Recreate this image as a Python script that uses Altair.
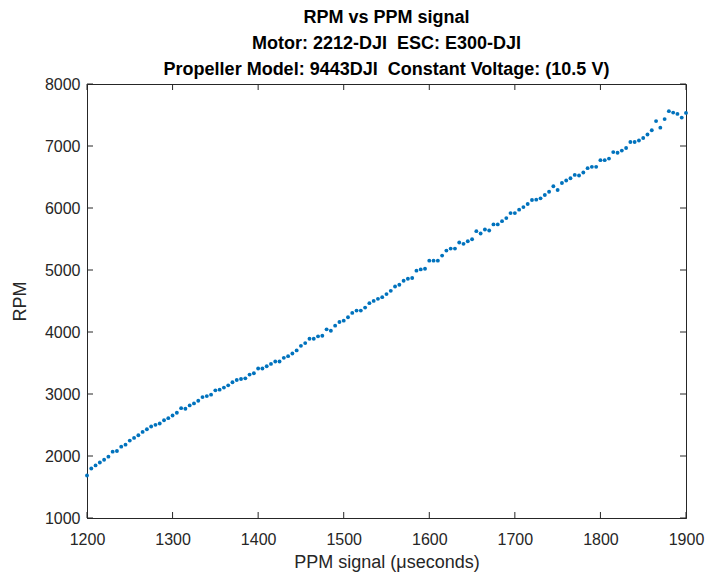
import altair as alt
import pandas as pd

# PPM command sweep (microseconds) and measured rotor speed (RPM)
ppm = list(range(1200, 1905, 5))
rpm = [
    1685, 1799, 1848, 1896, 1940, 1989, 2070, 2081, 2151, 2183,
    2248, 2292, 2334, 2389, 2431, 2475, 2503, 2524, 2577, 2610,
    2654, 2697, 2772, 2762, 2816, 2848, 2892, 2950, 2966, 2989,
    3059, 3070, 3103, 3140, 3189, 3226, 3242, 3253, 3313, 3335,
    3411, 3411, 3448, 3485, 3524, 3524, 3583, 3610, 3654, 3703,
    3777, 3821, 3891, 3891, 3930, 3939, 4043, 4021, 4102, 4162,
    4183, 4238, 4308, 4345, 4345, 4394, 4465, 4502, 4535, 4562,
    4611, 4664, 4734, 4762, 4826, 4859, 4870, 4989, 5010, 5021,
    5151, 5151, 5151, 5232, 5313, 5345, 5345, 5443, 5422, 5464,
    5496, 5626, 5589, 5653, 5637, 5735, 5735, 5788, 5837, 5918,
    5918, 5973, 6015, 6064, 6129, 6135, 6156, 6210, 6262, 6351,
    6291, 6404, 6443, 6480, 6534, 6524, 6573, 6643, 6664, 6664,
    6772, 6772, 6797, 6902, 6891, 6926, 6967, 7064, 7064, 7089,
    7129, 7186, 7254, 7402, 7296, 7434, 7562, 7539, 7518, 7458,
    7534,
]
x_ticks = [1200, 1300, 1400, 1500, 1600, 1700, 1800, 1900]
y_ticks = [1000, 2000, 3000, 4000, 5000, 6000, 7000, 8000]

NB = "\u00a0"
title_lines = [
    "RPM vs PPM signal",
    f"Motor: 2212-DJI{NB}{NB}ESC: E300-DJI",
    f"Propeller Model: 9443DJI{NB}{NB}Constant Voltage: (10.5 V)",
]

W, H = 599, 434
TICK = 6
AX = "#262626"
FONT = "Liberation Sans"

df = pd.DataFrame({"ppm": ppm, "rpm": rpm})
xt = pd.DataFrame({"t": x_ticks})
yt = pd.DataFrame({"t": y_ticks})

xs = alt.Scale(domain=[1200, 1900], nice=False, zero=False)
ys = alt.Scale(domain=[1000, 8000], nice=False, zero=False)

x_axis = alt.Axis(
    values=x_ticks,
    title="PPM signal (μseconds)",
    format="d",
    labelFlush=False,
    labelOverlap=False,
    labelPadding=13,
    titlePadding=6,
)
y_axis = alt.Axis(
    values=y_ticks,
    title="RPM",
    format="d",
    labelFlush=False,
    labelOverlap=False,
    labelPadding=7,
    titlePadding=15,
)

points = alt.Chart(df).mark_circle(size=15, color="#0072BD", opacity=1).encode(
    x=alt.X("ppm:Q", scale=xs, axis=x_axis),
    y=alt.Y("rpm:Q", scale=ys, axis=y_axis),
)

# inward-pointing ticks on all four sides of the box
bottom_ticks = alt.Chart(xt).mark_rule(color=AX, strokeWidth=1).encode(
    x=alt.X("t:Q", scale=xs, axis=x_axis), y=alt.value(H), y2=alt.value(H - TICK)
)
top_ticks = alt.Chart(xt).mark_rule(color=AX, strokeWidth=1).encode(
    x=alt.X("t:Q", scale=xs, axis=x_axis), y=alt.value(0), y2=alt.value(TICK)
)
left_ticks = alt.Chart(yt).mark_rule(color=AX, strokeWidth=1).encode(
    y=alt.Y("t:Q", scale=ys, axis=y_axis), x=alt.value(0), x2=alt.value(TICK)
)
right_ticks = alt.Chart(yt).mark_rule(color=AX, strokeWidth=1).encode(
    y=alt.Y("t:Q", scale=ys, axis=y_axis), x=alt.value(W), x2=alt.value(W - TICK)
)

chart = (
    alt.layer(points, bottom_ticks, top_ticks, left_ticks, right_ticks)
    .properties(
        width=W,
        height=H,
        padding={"left": 87, "top": 84, "right": 21, "bottom": 59},
        autosize=alt.AutoSizeParams(type="none"),
        title=alt.TitleParams(
            text=title_lines,
            font=FONT,
            fontSize=18,
            fontWeight="bold",
            color="black",
            lineHeight=26,
            offset=-3,
            anchor="middle",
            frame="group",
        ),
    )
    .configure_view(stroke=AX, strokeWidth=1)
    .configure_axis(
        grid=False,
        tickSize=0,
        domainColor=AX,
        labelColor=AX,
        titleColor=AX,
        labelFont=FONT,
        titleFont=FONT,
        labelFontSize=16,
        titleFontSize=18,
        titleFontWeight="normal",
    )
)

chart.save("out.html", embed_options={"renderer": "svg", "actions": False})
